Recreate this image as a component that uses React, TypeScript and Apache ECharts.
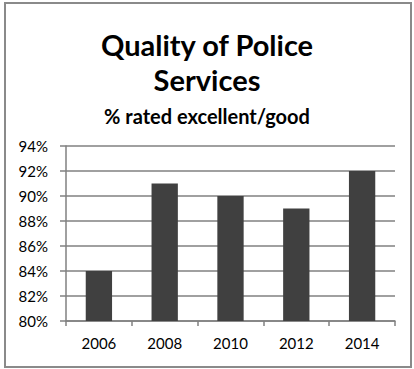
import React, { useEffect, useRef } from "react";
import * as echarts from "echarts";

const categories = ["2006", "2008", "2010", "2012", "2014"];
const ratedExcellentGood = [84, 91, 90, 89, 92];
const yMin = 80;
const yMax = 94;
const yStep = 2;
const titleLines = ["Quality of Police", "Services"];
const subtitle = "% rated excellent/good";

export default function App() {
  const ref = useRef<HTMLDivElement>(null);
  useEffect(() => {
    if (!ref.current) return;
    const chart = echarts.init(ref.current, undefined, { renderer: "svg" });
    const axisGray = "#808080";
    chart.setOption({
      animation: false,
      backgroundColor: "#ffffff",
      textStyle: { fontFamily: "Lato" },
      graphic: [
        {
          type: "rect",
          shape: { x: 5, y: 3, width: 406, height: 364 },
          style: { fill: "none", stroke: "#8a8a8a", lineWidth: 2 },
          silent: true,
        },
        {
          type: "text",
          x: 207,
          y: 44,
          style: {
            text: titleLines[0],
            font: "bold 29px Lato",
            fill: "#000",
            align: "center",
            verticalAlign: "middle",
          },
        },
        {
          type: "text",
          x: 207,
          y: 79,
          style: {
            text: titleLines[1],
            font: "bold 29px Lato",
            fill: "#000",
            align: "center",
            verticalAlign: "middle",
          },
        },
        {
          type: "text",
          x: 207,
          y: 116,
          style: {
            text: subtitle,
            font: "bold 20px Lato",
            fill: "#000",
            align: "center",
            verticalAlign: "middle",
          },
        },
      ],
      grid: { left: 66, right: 19, top: 146, bottom: 48, containLabel: false },
      xAxis: {
        type: "category",
        data: categories,
        boundaryGap: true,
        axisLine: { show: true, lineStyle: { color: axisGray, width: 1.5 } },
        axisTick: { show: true, alignWithLabel: false, length: 5, lineStyle: { color: axisGray, width: 1.5 } },
        axisLabel: { color: "#000", fontSize: 15, fontFamily: "Lato", margin: 14 },
        splitLine: { show: false },
      },
      yAxis: {
        type: "value",
        min: yMin,
        max: yMax,
        interval: yStep,
        axisLine: { show: true, lineStyle: { color: axisGray, width: 1.5 } },
        axisTick: { show: true, length: 6, lineStyle: { color: axisGray, width: 1.5 } },
        axisLabel: { color: "#000", fontSize: 15, fontFamily: "Lato", margin: 18, formatter: "{value}%" },
        splitLine: { show: true, lineStyle: { color: axisGray, width: 1.5 } },
      },
      series: [
        {
          type: "bar",
          data: ratedExcellentGood,
          barWidth: "40%",
          itemStyle: { color: "#404040" },
        },
      ],
    });
    return () => chart.dispose();
  }, []);
  return (
    <div
      ref={ref}
      style={{ position: "fixed", left: 0, top: 0, width: 414, height: 369 }}
    />
  );
}
